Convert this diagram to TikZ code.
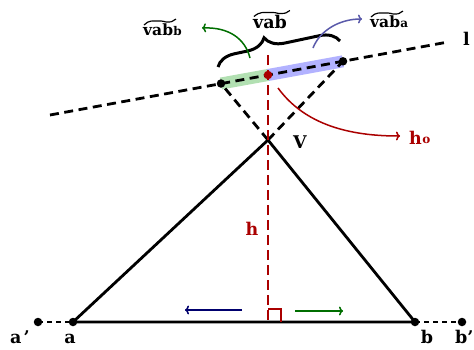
\documentclass[tikz,border=0pt]{standalone}
\usepackage{fontspec}
\newfontfamily\lblfont{DejaVu Serif}
\usetikzlibrary{decorations.pathreplacing,arrows.meta}
\definecolor{dred}{RGB}{170,0,0}
\definecolor{dgreen}{RGB}{0,110,0}
\definecolor{navy}{RGB}{0,0,110}
\definecolor{lblue}{RGB}{90,90,170}
\begin{document}
\begin{tikzpicture}[x=1pt,y=-1pt,
  lbl/.style={font=\lblfont\bfseries\fontsize{17.5}{17.5}\selectfont, inner sep=0pt},
  slbl/.style={font=\lblfont\bfseries\fontsize{15.5}{15.5}\selectfont, inner sep=0pt},
  sub/.style={font=\lblfont\bfseries\fontsize{12}{12}\selectfont, inner sep=0pt},
  tilde/.style={line width=1.2pt},
  dashline/.style={line width=2.8pt, dash pattern=on 9pt off 5.5pt},
  solidline/.style={line width=2.8pt, line cap=round, line join=round},
  dot/.style={circle, fill=black, inner sep=0pt, minimum size=8.5pt},
  hl/.style={line width=12pt, opacity=0.3},
  tipline/.style={line width=1.5pt, -{To[length=4pt,width=9pt]}}]
\useasboundingbox (0,0) rectangle (474,349);
% coordinates
\coordinate (A) at (73,322);
\coordinate (B) at (415,322);
\coordinate (A2) at (38,322);
\coordinate (B2) at (462,322);
\coordinate (V) at (268,140);
\coordinate (P1) at (221,83.5);
\coordinate (P2) at (343,61.3);
\coordinate (M) at (268,75);
\coordinate (L1) at (50,115);
\coordinate (L2) at (448,42);
\coordinate (Htop) at (268,55);
\coordinate (Hbot) at (268,322);
% highlights
\draw[hl, green!60!black] (P1) -- (M);
\draw[hl, blue] (M) -- (P2);
% line l
\draw[dashline] (L1) -- (L2);
% extensions through V
\draw[dashline] (V) -- (P1);
\draw[dashline] (V) -- (P2);
% triangle
\draw[solidline] (A) -- (V) -- (B) -- cycle;
\draw[line width=2.2pt, dash pattern=on 5pt off 4pt] (A2) -- (A);
\draw[line width=2.2pt, dash pattern=on 5pt off 4pt] (B) -- (B2);
% height
\draw[dashline, dred, dash pattern=on 10pt off 5pt] (Htop) -- (Hbot);
\coordinate (R1) at (268,309);
\coordinate (R2) at (281,309);
\coordinate (R3) at (281,322);
\draw[dred, line width=2.6pt] (R1) -- (R2) -- (R3);
% dots
\node[dot] (na) at (A) {};
\node[dot] (nb) at (B) {};
\node[dot] (na2) at (A2) {};
\node[dot] (nb2) at (B2) {};
\node[dot] (np1) at (P1) {};
\node[dot] (np2) at (P2) {};
\node[dot, fill=dred] (nm) at (M) {};
% brace
\coordinate (Br1) at (218,67);
\coordinate (Br2) at (340,41);
\draw[line width=3pt, decorate, decoration={brace, amplitude=19pt, aspect=0.41}] (Br1) -- (Br2);
% labels
\node[lbl, anchor=base] (tvab) at (270,28) {vab};
\draw[tilde] ([xshift=1pt,yshift=-2pt]tvab.north west) .. controls ++(6,-5) and ++(-8,0) .. ++(17,-4)
  .. controls ++(8,0) and ++(-6,0) .. ++(10,1) .. controls ++(6,0) and ++(-4,2) .. ++(9,-3);
\node[slbl, anchor=base west] (tvabb) at (143,35) {vab};
\node[sub, anchor=base west] (tvabbs) at (tvabb.base east) {b};
\draw[tilde] ([xshift=1pt,yshift=-2pt]tvabb.north west) .. controls ++(5,-5) and ++(-7,0) .. ++(15,-4)
  .. controls ++(7,0) and ++(-5,0) .. ++(9,1) .. controls ++(5,0) and ++(-4,2) .. ++(8,-3);
\node[slbl, anchor=base west] (tvaba) at (370,27) {vab};
\node[sub, anchor=base west] (tvabas) at (tvaba.base east) {a};
\draw[tilde] ([xshift=1pt,yshift=-2pt]tvaba.north west) .. controls ++(5,-5) and ++(-7,0) .. ++(15,-4)
  .. controls ++(7,0) and ++(-5,0) .. ++(9,1) .. controls ++(5,0) and ++(-4,2) .. ++(8,-3);
\node[lbl, anchor=base west] (tl) at (463,45) {l};
\node[lbl, dred, anchor=base west] (tho) at (409,144) {h};
\node[sub, dred, anchor=base west] (thos) at ([yshift=1pt]tho.base east) {o};
\node[lbl, anchor=base] (tV) at (300,148) {V};
\node[lbl, dred, anchor=base] (th) at (252,235) {h};
\node[lbl, anchor=base] (ta) at (70,343) {a};
\node[lbl, anchor=base] (tb) at (427,343) {b};
\node[lbl, anchor=base west] (ta2) at (10,343) {a\hspace{2pt}’};
\node[lbl, anchor=base west] (tb2) at (455,343) {b’};
% curved arrows
\coordinate (g1) at (250,58);
\coordinate (g2) at (202,28);
\draw[tipline, dgreen] (g1) .. controls (245,38) and (228,27) .. (g2);
\coordinate (bl1) at (313,48);
\coordinate (bl2) at (362,19);
\draw[tipline, lblue] (bl1) .. controls (320,30) and (340,19) .. (bl2);
\coordinate (r1) at (278,88);
\coordinate (r2) at (400,136);
\draw[tipline, dred] (r1) .. controls (305,125) and (350,136) .. (r2);
% bottom arrows
\coordinate (n1) at (242,310);
\coordinate (n2) at (185,310);
\draw[tipline, navy] (n1) -- (n2);
\coordinate (e1) at (295,311);
\coordinate (e2) at (343,311);
\draw[tipline, dgreen] (e1) -- (e2);
\end{tikzpicture}
\end{document}
